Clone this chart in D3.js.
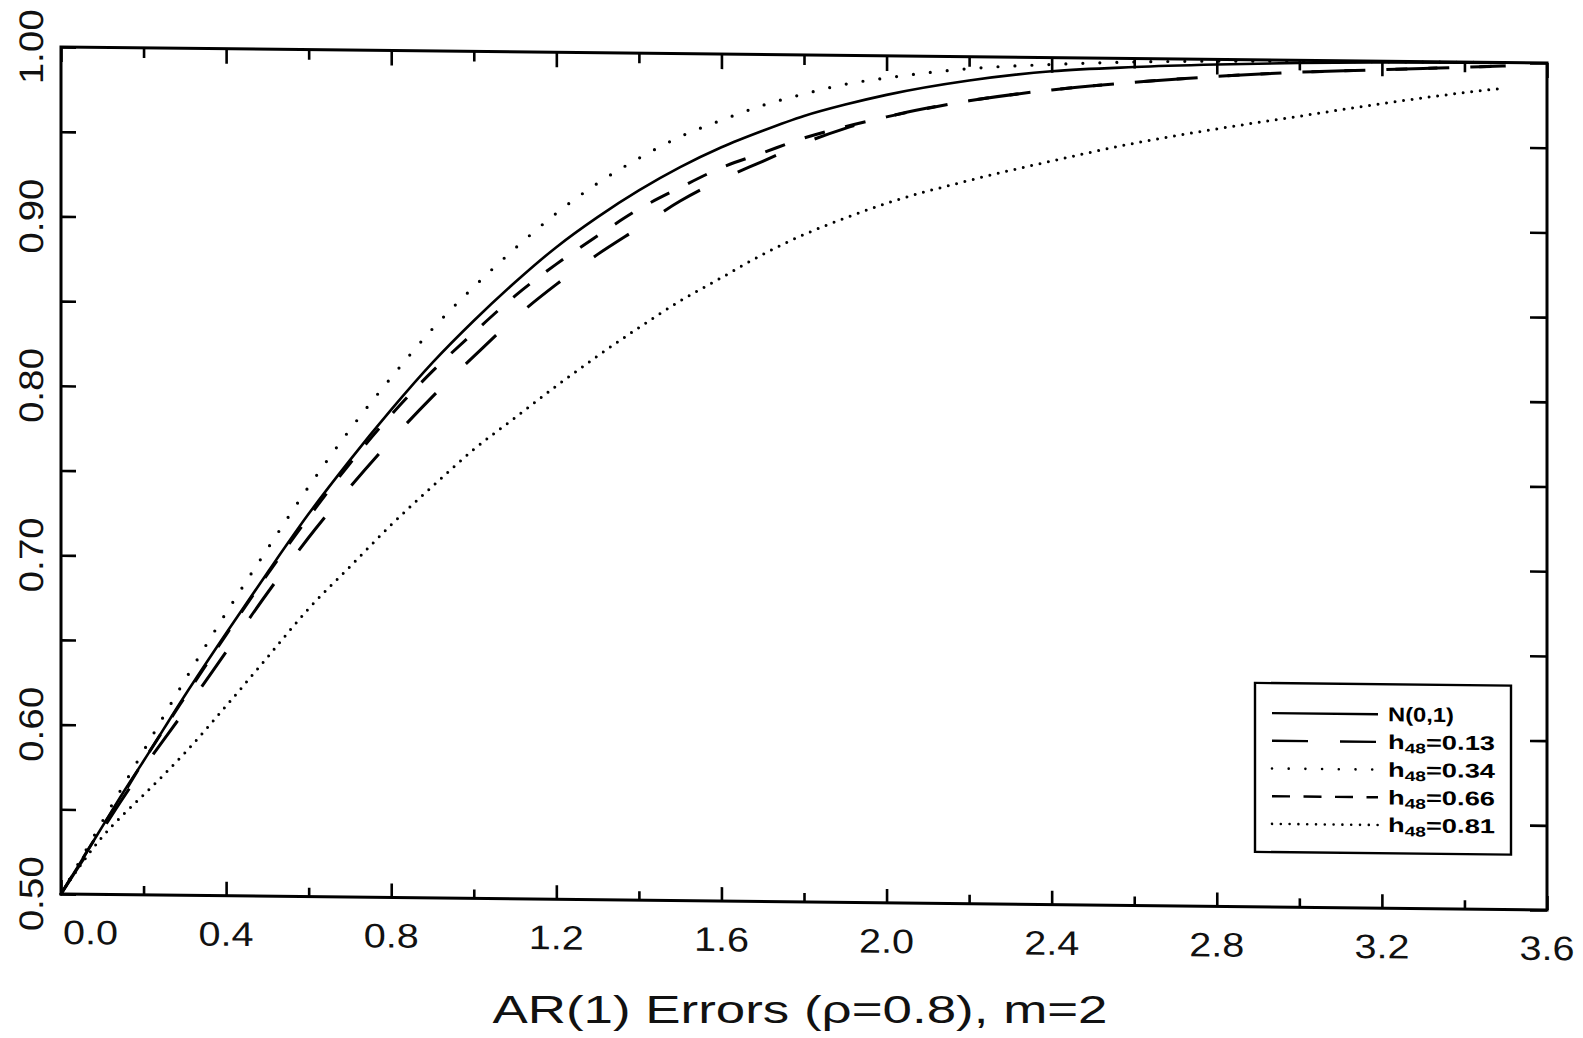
<!DOCTYPE html>
<html><head><meta charset="utf-8">
<script src="https://cdn.jsdelivr.net/npm/d3@7"></script>
<style>html,body{margin:0;padding:0;background:#fff;}svg{display:block;}</style>
</head><body>
<script>
// ---- data ----
const xValues = [0,0.05,0.1,0.15,0.2,0.3,0.4,0.5,0.6,0.7,0.8,0.9,1.0,1.1,1.2,1.3,1.4,1.5,1.6,1.7,1.8,1.9,2.0,2.2,2.4,2.6,2.8,3.0,3.2,3.4,3.5];
const normal01 = [0.5,0.520,0.540,0.560,0.579,0.618,0.655,0.691,0.726,0.758,0.788,0.816,0.841,0.864,0.885,0.903,0.919,0.933,0.945,0.955,0.964,0.971,0.977,0.986,0.992,0.995,0.997,0.9985,0.9993,0.9997,0.9998];
const h013 = [0.5,0.519,0.538,0.557,0.575,0.609,0.644,0.679,0.712,0.742,0.770,0.796,0.820,0.843,0.863,0.881,0.897,0.913,0.926,0.937,0.948,0.957,0.964,0.974,0.981,0.986,0.990,0.993,0.995,0.997,0.998];
const h034 = [0.5,0.5215,0.543,0.564,0.585,0.627,0.667,0.705,0.742,0.776,0.807,0.836,0.861,0.884,0.905,0.923,0.938,0.951,0.961,0.970,0.977,0.983,0.987,0.993,0.996,0.998,0.999,0.9994,0.9997,0.9999,0.9999];
const h066 = [0.5,0.520,0.540,0.559,0.579,0.617,0.654,0.690,0.724,0.756,0.785,0.811,0.834,0.856,0.875,0.892,0.908,0.921,0.933,0.942,0.951,0.958,0.964,0.974,0.981,0.986,0.990,0.993,0.995,0.997,0.998];
const h081 = [0.5,0.518,0.534,0.547,0.559,0.584,0.612,0.641,0.670,0.695,0.720,0.743,0.765,0.784,0.803,0.821,0.838,0.854,0.868,0.882,0.894,0.904,0.913,0.927,0.939,0.950,0.959,0.967,0.975,0.982,0.985];
const xTickLabels = ["0.0","0.4","0.8","1.2","1.6","2.0","2.4","2.8","3.2","3.6"];
const yTickLabels = ["0.50","0.60","0.70","0.80","0.90","1.00"];
const seriesNames = ["N(0,1)","0.13","0.34","0.66","0.81"];
const xTitle = "AR(1) Errors (\u03C1=0.8), m=2";

// ---- layout ----
const W = 1583, H = 1038;
const L = 61, R = 1547, T = 47, B = 894;
const skew = 0.0108;
const x = d3.scaleLinear().domain([0, 3.6]).range([L, R]);
const y = d3.scaleLinear().domain([0.5, 1.0]).range([B, T]);

const svg = d3.select("body").append("svg").attr("width", W).attr("height", H);
svg.append("rect").attr("width", W).attr("height", H).attr("fill", "#fff");
const g = svg.append("g").attr("transform", `matrix(1,${skew},0,1,0,${-skew * L})`);

const series = [
  {name: seriesNames[0], values: normal01, dash: null, width: 2.6, cap: "butt", legendDash: null},
  {name: seriesNames[1], values: h013, dash: "42 42", width: 3, cap: "butt", legendDash: "36 32"},
  {name: seriesNames[2], values: h034, dash: "0 17", width: 3.2, cap: "round", legendDash: "0 16.7"},
  {name: seriesNames[3], values: h066, dash: "21 21", width: 3, cap: "butt", legendDash: "18 13.5"},
  {name: seriesNames[4], values: h081, dash: "0 8.6", width: 3, cap: "round", legendDash: "0 8.8"}
];

const line = d3.line().x(d => x(d[0])).y(d => y(d[1])).curve(d3.curveMonotoneX);

series.forEach(s => {
  g.append("path")
    .datum(xValues.map((xv, i) => [xv, s.values[i]]))
    .attr("d", line)
    .attr("fill", "none")
    .attr("stroke", "#000")
    .attr("stroke-width", s.width)
    .attr("stroke-linecap", s.cap)
    .attr("stroke-dasharray", s.dash);
});

// frame
g.append("rect").attr("x", L).attr("y", T).attr("width", R - L).attr("height", B - T)
  .attr("fill", "none").attr("stroke", "#000").attr("stroke-width", 3);

// ticks via axes
const xMajor = xTickLabels.map(Number);
const xMinor = d3.range(0.2, 3.6, 0.4).map(v => +v.toFixed(1));
function axisGroup(axis, tx, ty) {
  const a = g.append("g").attr("transform", `translate(${tx},${ty})`).call(axis);
  a.select(".domain").remove();
  a.selectAll(".tick line").attr("stroke", "#000").attr("stroke-width", 2.6);
  a.selectAll(".tick text").remove();
  return a;
}
axisGroup(d3.axisBottom(x).tickValues(xMajor).tickSize(-14), 0, B);
axisGroup(d3.axisBottom(x).tickValues(xMinor).tickSize(-9), 0, B);
axisGroup(d3.axisTop(x).tickValues(xMajor).tickSize(-15), 0, T);
axisGroup(d3.axisTop(x).tickValues(xMinor).tickSize(-10), 0, T);
const yTicks = d3.range(0, 11).map(i => +(0.5 + i * 0.05).toFixed(2));
axisGroup(d3.axisLeft(y).tickValues(yTicks).tickSize(-15), L, 0);
axisGroup(d3.axisRight(y).tickValues(yTicks).tickSize(-17), R, 0);

// tick labels
const fontFam = "'Liberation Sans', Arial, sans-serif";
g.selectAll("text.xl").data(xTickLabels).enter().append("text")
  .attr("class", "xl")
  .attr("x", (d, i) => i === 0 ? x(+d) + 2 : x(+d))
  .attr("y", 944)
  .attr("text-anchor", (d, i) => i === 0 ? "start" : "middle")
  .attr("font-family", fontFam).attr("font-size", 34)
  .attr("textLength", 55).attr("lengthAdjust", "spacingAndGlyphs")
  .attr("fill", "#111")
  .text(d => d);

g.selectAll("text.yl").data(yTickLabels).enter().append("text")
  .attr("class", "yl")
  .attr("transform", d => `translate(43,${y(+d)}) rotate(-90)`)
  .attr("text-anchor", "middle")
  .attr("font-family", fontFam).attr("font-size", 34)
  .attr("textLength", 75).attr("lengthAdjust", "spacingAndGlyphs")
  .attr("fill", "#111")
  .text(d => d);

// legend
const lgX0 = 1255, lgX1 = 1511, lgY0 = 670, lgY1 = 839;
g.append("rect").attr("x", lgX0).attr("y", lgY0).attr("width", lgX1 - lgX0).attr("height", lgY1 - lgY0)
  .attr("fill", "#fff").attr("stroke", "#000").attr("stroke-width", 2.4);
const rowY = i => 700 + i * 27.7;
series.forEach((s, i) => {
  g.append("line").attr("x1", 1272).attr("x2", 1378).attr("y1", rowY(i)).attr("y2", rowY(i))
    .attr("stroke", "#000").attr("stroke-width", s.cap === "round" ? 2.6 : 2.4)
    .attr("stroke-linecap", s.cap).attr("stroke-dasharray", s.legendDash);
  const t = g.append("text").attr("x", 1388).attr("y", rowY(i) + 7)
    .attr("font-family", fontFam).attr("font-size", 20).attr("font-weight", "bold").attr("fill", "#000");
  if (i === 0) {
    t.attr("textLength", 66).attr("lengthAdjust", "spacingAndGlyphs").text(s.name);
  } else {
    t.attr("textLength", 107).attr("lengthAdjust", "spacingAndGlyphs");
    t.append("tspan").text("h");
    t.append("tspan").attr("font-size", 14).attr("dy", 4).text("48");
    t.append("tspan").attr("dy", -4).text("=" + s.name);
  }
});

// x title (not skewed)
svg.append("text").attr("x", 800).attr("y", 1023)
  .attr("text-anchor", "middle")
  .attr("font-family", fontFam).attr("font-size", 38)
  .attr("textLength", 615).attr("lengthAdjust", "spacingAndGlyphs")
  .attr("fill", "#111")
  .text(xTitle);
</script>
</body></html>
